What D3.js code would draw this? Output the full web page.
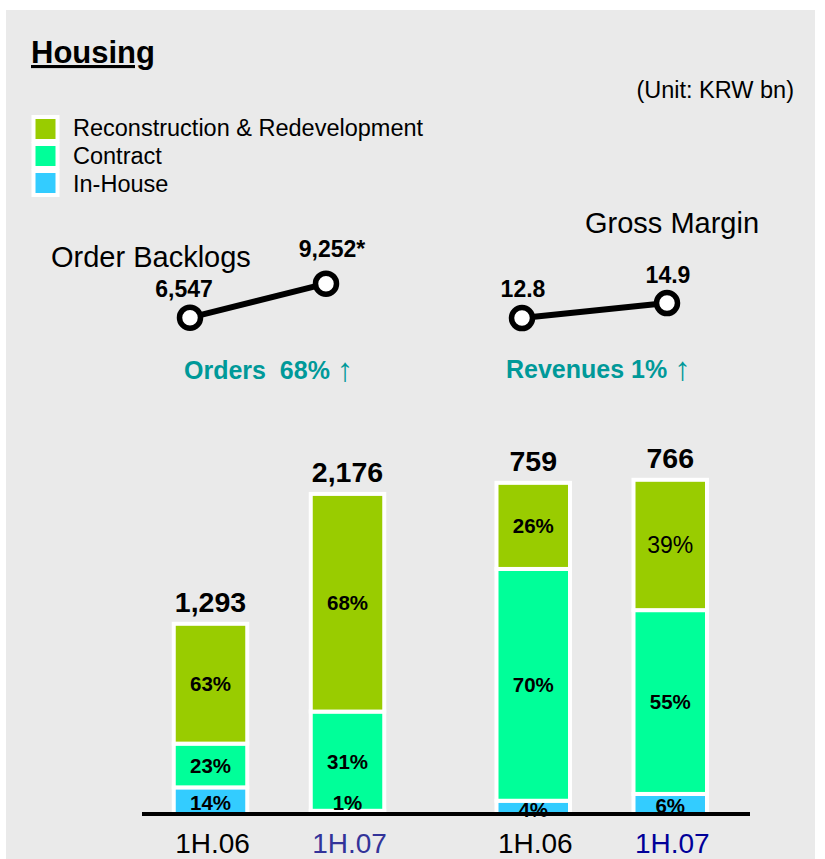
<!DOCTYPE html>
<html>
<head>
<meta charset="utf-8">
<script src="https://cdn.jsdelivr.net/npm/d3@7"></script>
<style>
  html, body { margin: 0; padding: 0; background: #fff; }
  svg { display: block; font-family: "Liberation Sans", Arial, sans-serif; }
</style>
</head>
<body>
<div id="chart"></div>
<script>
// Housing: orders vs revenues, split by business type

const periods = ['1H.06', '1H.07'];
const segmentKeys = ['In-House', 'Contract', 'Reconstruction & Redevelopment'];
const legendOrder = ['Reconstruction & Redevelopment', 'Contract', 'In-House'];

// orders (KRW bn) and share by segment (%)
const orderTotals = [1293, 2176];
const orderShares = [
  { 'Reconstruction & Redevelopment': 63, 'Contract': 23, 'In-House': 14 },
  { 'Reconstruction & Redevelopment': 68, 'Contract': 31, 'In-House': 1 }
];

// revenues (KRW bn) and share by segment (%)
const revenueTotals = [759, 766];
const revenueShares = [
  { 'Reconstruction & Redevelopment': 26, 'Contract': 70, 'In-House': 4 },
  { 'Reconstruction & Redevelopment': 39, 'Contract': 55, 'In-House': 6 }
];

const backlog = [6547, 9252];
const backlogLabels = ['6,547', '9,252*'];
const grossMargin = [12.8, 14.9];
const grossMarginLabels = ['12.8', '14.9'];

const orderGrowth = '68%';
const revenueGrowth = '1%';

const colors = {
  'Reconstruction & Redevelopment': '#99cc00',
  'Contract': '#00ff99',
  'In-House': '#33ccff'
};

const W = 825, H = 859;
const zeroY = 814;
const barW = 73.5;

const svg = d3.select('#chart').append('svg')
  .attr('width', W)
  .attr('height', H);

// grey panel
svg.append('rect')
  .attr('x', 6).attr('y', 10)
  .attr('width', 809).attr('height', H - 10)
  .attr('fill', '#eaeaea');

// title + unit
svg.append('text')
  .attr('x', 31).attr('y', 63)
  .attr('font-size', 31)
  .attr('font-weight', 700)
  .style('text-decoration', 'underline')
  .text('Housing');

svg.append('text')
  .attr('x', 794).attr('y', 98)
  .attr('text-anchor', 'end')
  .attr('font-size', 23.5)
  .text('(Unit: KRW bn)');

// legend
const legend = svg.append('g').attr('class', 'legend');
legendOrder.forEach((k, i) => {
  legend.append('rect')
    .attr('x', 33.5).attr('y', 117 + i * 27)
    .attr('width', 24).attr('height', 24)
    .attr('fill', colors[k])
    .attr('stroke', '#fff')
    .attr('stroke-width', 4);
  legend.append('text')
    .attr('x', 73).attr('y', 136 + i * 28)
    .attr('font-size', 23.5)
    .text(k);
});

// ---- small line charts ----
function miniLine(values, labels, xRange, y, title, titlePos, labelOffsets) {
  const x = d3.scalePoint().domain(periods).range(xRange);
  const g = svg.append('g');
  g.append('text')
    .attr('x', titlePos[0]).attr('y', titlePos[1])
    .attr('font-size', 29)
    .text(title);
  g.append('path')
    .datum(values)
    .attr('d', d3.line().x((d, i) => x(periods[i])).y(d => y(d)))
    .attr('stroke', '#000')
    .attr('stroke-width', 6)
    .attr('fill', 'none');
  g.selectAll('circle')
    .data(values)
    .join('circle')
    .attr('cx', (d, i) => x(periods[i]))
    .attr('cy', d => y(d))
    .attr('r', 10.5)
    .attr('fill', '#fff')
    .attr('stroke', '#000')
    .attr('stroke-width', 5.5);
  g.selectAll('text.val')
    .data(values)
    .join('text')
    .attr('class', 'val')
    .attr('x', (d, i) => x(periods[i]) + labelOffsets[i][0])
    .attr('y', (d, i) => y(d) + labelOffsets[i][1])
    .attr('text-anchor', 'middle')
    .attr('font-size', 23)
    .attr('font-weight', 700)
    .text((d, i) => labels[i]);
}

const backlogY = d3.scaleLinear().domain([0, 10000]).range([400, 274.3]);
const marginY = d3.scaleLinear().domain([0, 20]).range([409.4, 266.6]);

miniLine(backlog, backlogLabels, [190, 326], backlogY, 'Order Backlogs', [51, 267],
  [[-6, -21], [6, -27]]);
miniLine(grossMargin, grossMarginLabels, [522, 667], marginY, 'Gross Margin', [585, 233],
  [[1, -21], [1, -20]]);

// growth captions
function growth(x, y, word, pct) {
  const t = svg.append('text')
    .attr('x', x).attr('y', y)
    .attr('font-size', 25)
    .attr('font-weight', 700)
    .attr('fill', '#009999');
  t.append('tspan').text(word + '\u00a0' + pct + '\u00a0');
  t.append('tspan').attr('font-weight', 400).attr('font-size', 33).attr('dy', 2).text('\u2191');
}
growth(184, 379, 'Orders\u00a0', orderGrowth);
growth(506, 378, 'Revenues', revenueGrowth);

// ---- stacked bars ----
const groups = ['Orders', 'Revenues'];
const x0 = d3.scalePoint().domain(groups).range([279, 601.75]);
const x1 = d3.scalePoint().domain(periods).range([-68.5, 68.5]);

const yOrders = d3.scaleLinear().domain([0, 2200]).range([zeroY, zeroY - 2200 * 0.1471]);
const yRevenues = d3.scaleLinear().domain([0, 800]).range([zeroY, zeroY - 800 * 0.4363]);

const stack = d3.stack()
  .keys(segmentKeys)
  .value((d, k) => d.total * d.shares[k] / 100);

function barGroup(group, totals, shares, y) {
  const rows = periods.map((p, i) => ({ period: p, total: totals[i], shares: shares[i] }));
  const series = stack(rows);
  const g = svg.append('g').attr('class', 'bars-' + group);
  const cx = p => x0(group) + x1(p);
  const plain = (d, key) => group === 'Revenues' && d.data.period === '1H.07' && key === 'Reconstruction & Redevelopment';

  series.forEach(s => {
    const key = s.key;
    g.selectAll(null)
      .data(s)
      .join('rect')
      .attr('x', d => cx(d.data.period) - barW / 2)
      .attr('y', d => y(d[1]))
      .attr('width', barW)
      .attr('height', d => y(d[0]) - y(d[1]))
      .attr('fill', colors[key])
      .attr('stroke', '#fff')
      .attr('stroke-width', 4);
  });

  // share labels
  series.forEach(s => {
    const key = s.key;
    g.selectAll(null)
      .data(s)
      .join('text')
      .attr('x', d => cx(d.data.period))
      .attr('y', d => {
        const top = y(d[1]), bot = y(d[0]);
        return bot - top < 6 ? top - 8 : (top + bot) / 2 + (bot === zeroY ? 2 : 0);
      })
      .attr('dy', '0.36em')
      .attr('text-anchor', 'middle')
      .attr('font-size', d => plain(d, key) ? 23 : 20.5)
      .attr('font-weight', d => plain(d, key) ? 400 : 700)
      .text(d => d.data.shares[key] + '%');
  });

  // totals
  g.selectAll('text.total')
    .data(rows)
    .join('text')
    .attr('class', 'total')
    .attr('x', d => cx(d.period))
    .attr('y', d => y(d.total) - 12)
    .attr('text-anchor', 'middle')
    .attr('font-size', 28.5)
    .attr('font-weight', 700)
    .text(d => d3.format(',')(d.total));

  // period labels
  g.selectAll('text.period')
    .data(periods)
    .join('text')
    .attr('class', 'period')
    .attr('x', p => cx(p) + 2)
    .attr('y', 853)
    .attr('text-anchor', 'middle')
    .attr('font-size', 28)
    .attr('fill', (p, i) => i === 0 ? '#000' : (group === 'Orders' ? '#333399' : '#000099'))
    .text(p => p);
}

barGroup('Orders', orderTotals, orderShares, yOrders);
barGroup('Revenues', revenueTotals, revenueShares, yRevenues);

// baseline
svg.append('line')
  .attr('x1', 142).attr('x2', 750)
  .attr('y1', zeroY).attr('y2', zeroY)
  .attr('stroke', '#000')
  .attr('stroke-width', 4);
</script>
</body>
</html>
